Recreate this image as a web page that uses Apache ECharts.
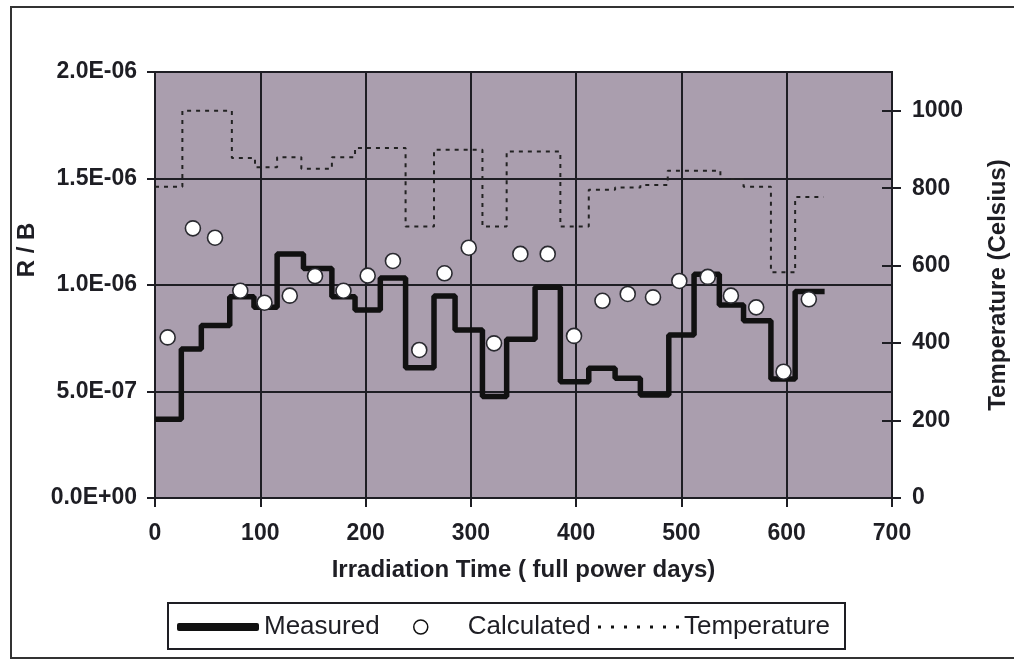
<!DOCTYPE html>
<html>
<head>
<meta charset="utf-8">
<script src="https://cdn.jsdelivr.net/npm/echarts@6/dist/echarts.min.js"></script>
<style>
html,body{margin:0;padding:0;background:#fff;}
#chart{width:1014px;height:660px;}
</style>
</head>
<body>
<div id="chart"></div>
<script>
// ---- data ----
const measuredX = [0,25,44,71,94,116,141,168,190,214,238,265,285,311,334,361,385,412,437,461,488,512,536,559,585,608,636];
const measuredY = [3.7e-7,7.0e-7,8.1e-7,9.45e-7,8.95e-7,1.146e-6,1.078e-6,9.45e-7,8.83e-7,1.033e-6,6.11e-7,9.48e-7,7.89e-7,4.76e-7,7.45e-7,9.89e-7,5.46e-7,6.09e-7,5.62e-7,4.84e-7,7.65e-7,1.05e-6,9.06e-7,8.32e-7,5.59e-7,9.69e-7,9.69e-7];

const calcX = [12,36,57,81,104,128,152,179,202,226,251,275,298,322,347,373,398,425,449,473,498,525,547,571,597,621];
const calcY = [7.54e-7,1.266e-6,1.222e-6,9.73e-7,9.17e-7,9.50e-7,1.042e-6,9.73e-7,1.044e-6,1.113e-6,6.95e-7,1.055e-6,1.175e-6,7.26e-7,1.146e-6,1.146e-6,7.61e-7,9.26e-7,9.58e-7,9.42e-7,1.019e-6,1.038e-6,9.50e-7,8.95e-7,5.93e-7,9.33e-7];

const tempX = [0,26,73,95,116,139,168,190,238,265,311,334,385,412,437,461,487,537,559,585,608,635];
const tempY = [804,1000,878,854,880,850,880,904,701,899,701,895,701,796,802,808,845,824,804,583,777,777];

const xTicks = [0,100,200,300,400,500,600,700];
const leftTicks = [0,5e-7,1e-6,1.5e-6,2e-6];
const rightTicks = [0,200,400,600,800,1000];

// ---- build ----
const zip = (a,b) => a.map((v,i)=>[v,b[i]]);
const fmtE = v => {
  const s = Number(v).toExponential(1).split('e');
  const e = parseInt(s[1],10);
  const sign = e < 0 ? '-' : '+';
  const ab = Math.abs(e);
  return s[0] + 'E' + sign + (ab < 10 ? '0' + ab : '' + ab);
};
const INK = '#1e1e24';
const FONT = "'Liberation Sans', Arial, sans-serif";
const lblStyle = {color: INK, fontFamily: FONT, fontWeight: 'bold', fontSize: 23};
const dotPath = 'path://M0,0h3v3h-3z M13,0h3v3h-3z M26,0h3v3h-3z M39,0h3v3h-3z M52,0h3v3h-3z M65,0h3v3h-3z M78,0h3v3h-3z';
const LEG_TOP = 614;

const chart = echarts.init(document.getElementById('chart'), null, {renderer:'canvas'});
chart.setOption({
  animation: false,
  backgroundColor: '#ffffff',
  grid: {left:155, right:122, top:72, bottom:162, show:true, backgroundColor:'#aa9eae', borderColor:INK, borderWidth:2, outerBoundsMode:'none', containLabel:false},
  xAxis: {
    type:'value', min:xTicks[0], max:xTicks[xTicks.length-1], interval:100,
    name:'Irradiation Time ( full power days)', nameLocation:'middle', nameGap:60,
    nameTextStyle:{color:INK, fontFamily:FONT, fontWeight:'bold', fontSize:24},
    axisLine:{show:true, onZero:false, lineStyle:{color:INK, width:2}},
    axisTick:{show:true, inside:false, length:9, lineStyle:{color:INK, width:2}},
    axisLabel:Object.assign({margin:24}, lblStyle),
    splitLine:{show:true, lineStyle:{color:INK, width:2}}
  },
  yAxis: [
    {
      type:'value', position:'left', min:0, max:2e-6, interval:5e-7,
      name:'R / B', nameLocation:'middle', nameGap:104, nameRotate:90,
      nameTextStyle:{color:INK, fontFamily:FONT, fontWeight:'bold', fontSize:24, padding:[0,0,0,70]},
      axisLine:{show:true, lineStyle:{color:INK, width:2}},
      axisTick:{show:true, inside:false, length:8, lineStyle:{color:INK, width:2}},
      axisLabel:Object.assign({margin:18, formatter:fmtE}, lblStyle),
      splitLine:{show:true, lineStyle:{color:INK, width:2}}
    },
    {
      type:'value', position:'right', min:0, max:1100, interval:200,
      name:'Temperature (Celsius)', nameLocation:'middle', nameGap:94, nameRotate:90,
      nameTextStyle:{color:INK, fontFamily:FONT, fontWeight:'bold', fontSize:24},
      axisLine:{show:true, lineStyle:{color:INK, width:2}},
      axisTick:{show:true, inside:false, length:9, customValues:rightTicks, lineStyle:{color:INK, width:2}},
      axisLabel:Object.assign({margin:20, customValues:rightTicks, formatter: v => String(v)}, lblStyle),
      splitLine:{show:false}
    },
    {
      type:'value', position:'right', min:0, max:1100, interval:200,
      axisLine:{show:false},
      axisTick:{show:true, inside:true, length:10, customValues:rightTicks, lineStyle:{color:INK, width:2}},
      axisLabel:{show:false},
      splitLine:{show:false}
    }
  ],
  legend: [
    {data:[{name:'Measured', icon:'roundRect'}], left:177, top:LEG_TOP, padding:0, itemWidth:82, itemHeight:8,
     itemStyle:{color:'#111'}, textStyle:{color:INK, fontFamily:FONT, fontSize:26}},
    {data:[{name:'Calculated', icon:'circle'}], left:413, top:LEG_TOP, padding:0, itemWidth:84, itemHeight:14,
     itemStyle:{color:'#fff', borderColor:'#111', borderWidth:1.5}, textStyle:{color:INK, fontFamily:FONT, fontSize:26}},
    {data:[{name:'Temperature', icon:dotPath}], left:598, top:LEG_TOP, padding:0, itemWidth:81, itemHeight:3,
     itemStyle:{color:'#111'}, textStyle:{color:INK, fontFamily:FONT, fontSize:26}}
  ],
  graphic: [
    {type:'rect', z:-1, silent:true, shape:{x:11, y:7, width:1010, height:651}, style:{fill:null, stroke:'#333', lineWidth:2}},
    {type:'rect', z:-1, silent:true, shape:{x:168, y:603, width:677, height:46}, style:{fill:'#fff', stroke:INK, lineWidth:2}}
  ],
  series: [
    {
      name:'Temperature', type:'line', yAxisIndex:1, step:'end', showSymbol:false, symbol:'none',
      data: zip(tempX, tempY), z:2,
      lineStyle:{color:'#222', width:2, type:[4,5]},
      itemStyle:{color:'#222'}
    },
    {
      name:'Measured', type:'line', yAxisIndex:0, step:'end', showSymbol:false, symbol:'none',
      data: zip(measuredX, measuredY), z:3,
      lineStyle:{color:'#111', width:5.5},
      itemStyle:{color:'#111'}
    },
    {
      name:'Calculated', type:'scatter', yAxisIndex:0, symbol:'circle', symbolSize:15,
      data: zip(calcX, calcY), z:4,
      itemStyle:{color:'#ffffff', opacity:1, borderColor:'#2a2a30', borderWidth:1.6}
    }
  ]
});
</script>
</body>
</html>
